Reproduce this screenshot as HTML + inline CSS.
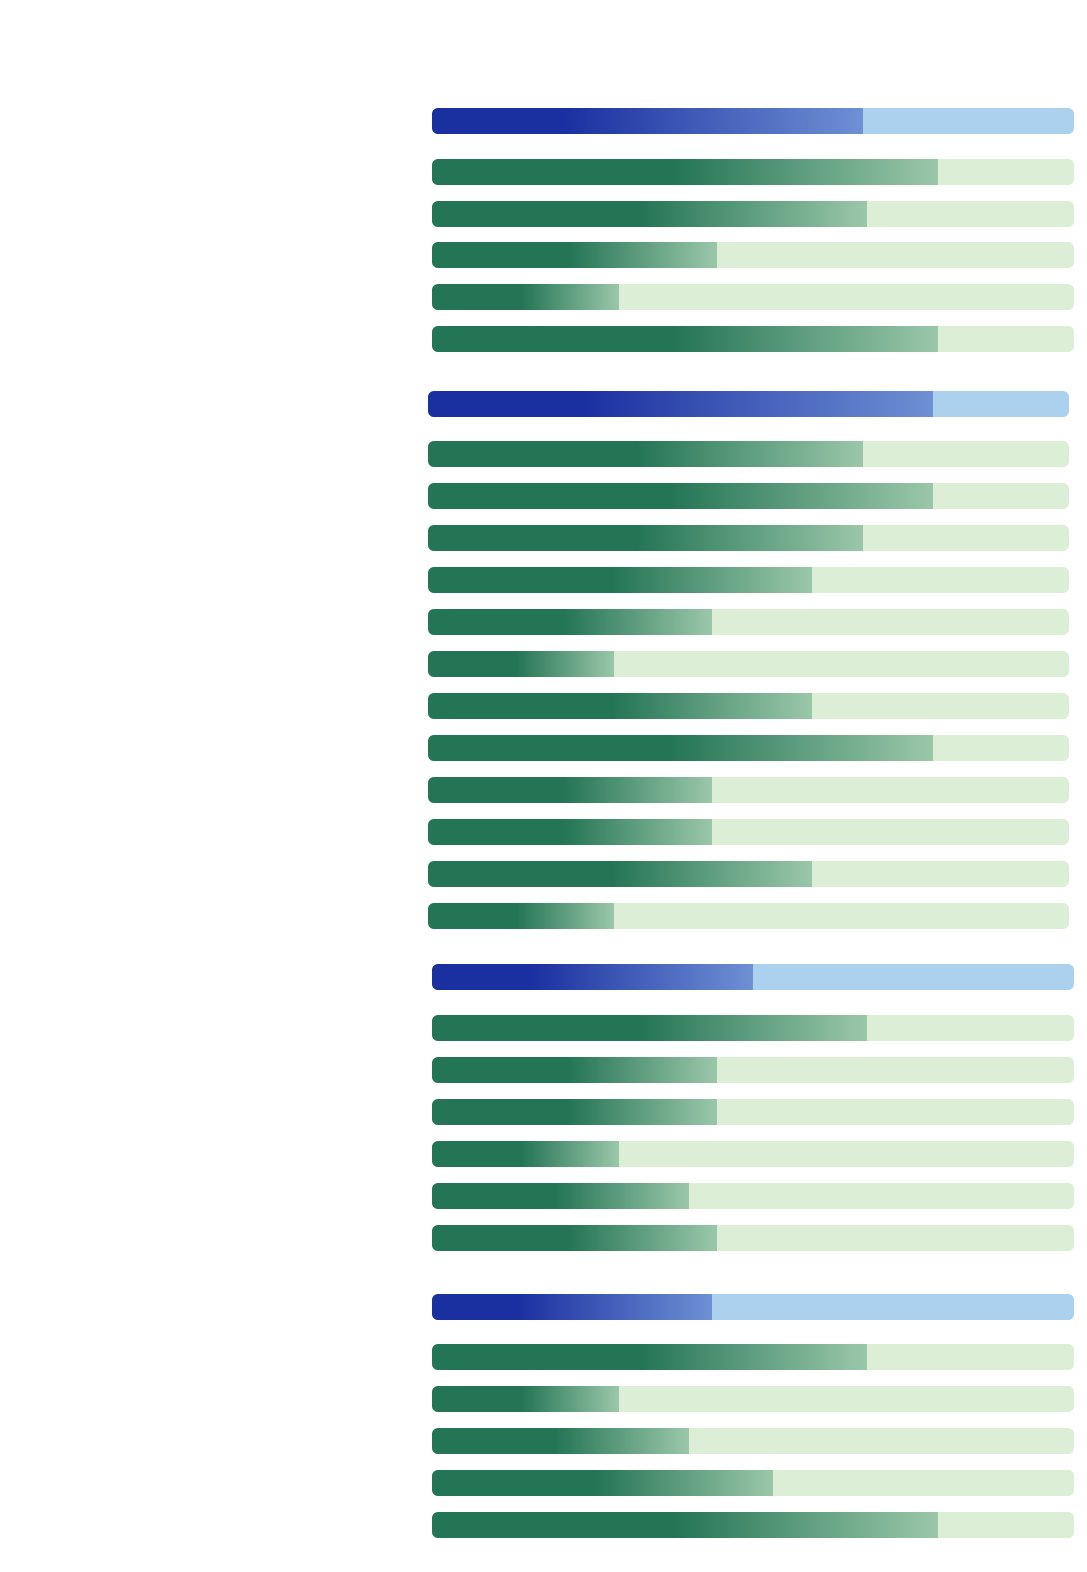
<!DOCTYPE html>
<html><head><style>
body{margin:0;width:1087px;height:1572px;background:#fff;position:relative;overflow:hidden}
.b{position:absolute;height:26px;border-radius:6px;overflow:hidden}
.g{background:#ddeed6}.u{background:#abd1ee}
.f{position:absolute;left:0;top:0;bottom:0}
.g .f{background:linear-gradient(to right,#247556 0%,#247556 48%,#9bc7a9 100%)}
.u .f{background:linear-gradient(to right,#1a2fa0 0%,#1a2fa0 30%,#6e90d4 100%)}
</style></head><body>
<div id="c"></div>
<script>
var rows=[
[432,1074,[[108,863,1],[159,938],[201,867],[242,717],[284,619],[326,938]]],
[428,1069,[[391,933,1],[441,863],[483,933],[525,863],[567,812],[609,712],[651,614],[693,812],[735,933],[777,712],[819,712],[861,812],[903,614]]],
[432,1074,[[964,753,1],[1015,867],[1057,717],[1099,717],[1141,619],[1183,689],[1225,717]]],
[432,1074,[[1294,712,1],[1344,867],[1386,619],[1428,689],[1470,773],[1512,938]]]];
var h='';
rows.forEach(function(g){g[2].forEach(function(r){
h+='<div class="b '+(r[2]?'u':'g')+'" style="left:'+g[0]+'px;top:'+r[0]+'px;width:'+(g[1]-g[0])+'px"><div class="f" style="width:'+(r[1]-g[0])+'px"></div></div>';});});
document.getElementById('c').innerHTML=h;
</script>
</body></html>
